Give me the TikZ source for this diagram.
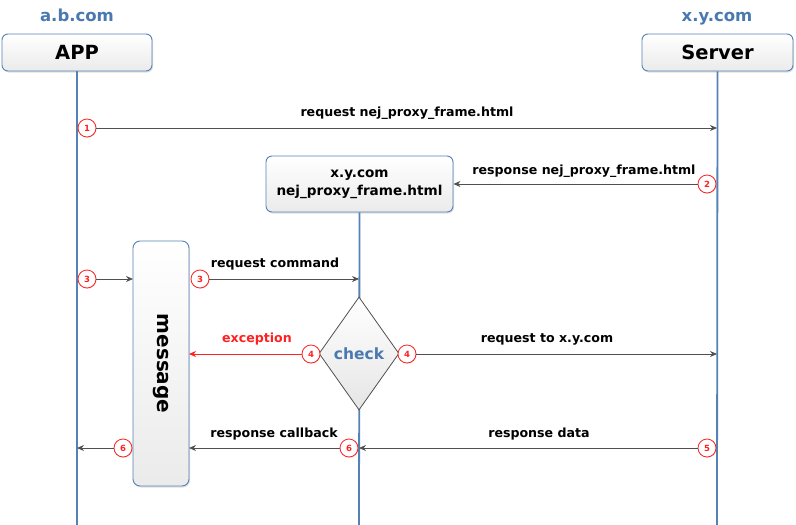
\documentclass[tikz,border=0pt]{standalone}
\usepackage{fontspec}
\setmainfont{DejaVu Sans}
\usetikzlibrary{shapes.geometric,arrows.meta,shadows}
\definecolor{lifeblue}{HTML}{5582B5}
\definecolor{headblue}{HTML}{4A79B0}
\definecolor{arrgray}{HTML}{505050}
\definecolor{numred}{HTML}{FF2020}
\tikzset{
  every node/.style={font=\bfseries},
  headbox/.style={draw=lifeblue, line width=0.9pt, rounded corners=6pt, top color=white, bottom color=black!8, drop shadow={opacity=0.25,shadow xshift=1pt,shadow yshift=-1.5pt}},
  domainlbl/.style={text=headblue, anchor=base, font=\bfseries\fontsize{16.5}{18}\selectfont},
  lifeline/.style={draw=lifeblue, line width=1.8pt},
  msg/.style={draw=arrgray, line width=0.8pt, -{Stealth[length=7pt,width=6pt]}},
  redmsg/.style={draw=numred, line width=0.8pt, -{Stealth[length=7pt,width=6pt]}},
  lbl/.style={font=\bfseries\fontsize{12.6}{13}\selectfont, text=black},
  num/.style={circle, draw=numred, fill=white, line width=0.8pt, minimum size=18pt, inner sep=0pt, text=numred, font=\bfseries\fontsize{8.5}{9}\selectfont, drop shadow={opacity=0.2,shadow xshift=0.8pt,shadow yshift=-0.8pt}},
}
\begin{document}
\begin{tikzpicture}[x=1pt,y=-1pt]
\useasboundingbox (0,0) rectangle (796,525);
% headers
\node[domainlbl] (abcom) at (77,21) {a.b.com};
\node[domainlbl] (xycom) at (717,21) {x.y.com};
\node[headbox, minimum width=150pt, minimum height=37pt, font=\bfseries\fontsize{19.5}{22}\selectfont] (app) at (77,52.5) {APP};
\node[headbox, minimum width=151pt, minimum height=37pt, font=\bfseries\fontsize{19.5}{22}\selectfont] (server) at (717.5,52.5) {Server};
\node[headbox, minimum width=187pt, minimum height=56pt, align=center, font=\bfseries\fontsize{13.6}{18}\selectfont] (frame) at (359.5,184) {x.y.com\\nej\_proxy\_frame.html};
% lifelines
\coordinate (appb) at (77,525);
\coordinate (serverb) at (717,525);
\coordinate (frameb) at (359,525);
\draw[lifeline] (app.south) -- (appb);
\draw[lifeline] (server.south) -- (serverb);
\draw[lifeline] (frame.south) -- (frameb);
% message box and check diamond
\node[headbox, minimum width=56pt, minimum height=245pt, rounded corners=7pt] (message) at (161,363.5) {};
\node[rotate=-90, font=\bfseries\fontsize{20}{22}\selectfont] (msgtext) at (message.center) {message};
\node[diamond, draw=arrgray, line width=0.8pt, aspect=0.71, minimum width=80pt, minimum height=113pt, inner sep=0pt, top color=white, bottom color=black!10, text=headblue, font=\bfseries\fontsize{15.5}{17}\selectfont] (check) at (359,353.5) {check};
% step coordinates on lifelines
\coordinate (s1) at (717,128);
\coordinate (s3a) at (133,279);
\coordinate (s3b) at (359,279);
\coordinate (s4b) at (717,354);
\coordinate (s5) at (359,448);
\coordinate (s6a) at (189,448);
\coordinate (s6b) at (77,448);
\coordinate (s4a) at (189,354);
% numbered circles
\node[num] (n1) at (87,128) {1};
\node[num] (n2) at (707,184) {2};
\node[num] (n3a) at (87,279) {3};
\node[num] (n3b) at (200,279) {3};
\node[num] (n4a) at (311,354) {4};
\node[num] (n4b) at (407,354) {4};
\node[num] (n5) at (707,448) {5};
\node[num] (n6a) at (349,448) {6};
\node[num] (n6b) at (123,448) {6};
% arrows
\draw[msg] (n1) -- (s1);
\draw[msg] (n2) -- (frame.east |- n2);
\draw[msg] (n3a) -- (s3a);
\draw[msg] (n3b) -- (s3b);
\draw[redmsg] (n4a) -- (s4a);
\draw[msg] (n4b) -- (s4b);
\draw[msg] (n5) -- (s5);
\draw[msg] (n6a) -- (s6a);
\draw[msg] (n6b) -- (s6b);
% labels
\node[lbl] (l1) at (407,113.5) {request nej\_proxy\_frame.html};
\node[lbl] (l2) at (584,171.5) {response nej\_proxy\_frame.html};
\node[lbl] (l3) at (275,264.5) {request command};
\node[lbl, text=numred] (l4a) at (257,339.5) {exception};
\node[lbl] (l4b) at (547,339.5) {request to x.y.com};
\node[lbl] (l5) at (539,434.5) {response data};
\node[lbl] (l6) at (274,434.5) {response callback};
\end{tikzpicture}
\end{document}
